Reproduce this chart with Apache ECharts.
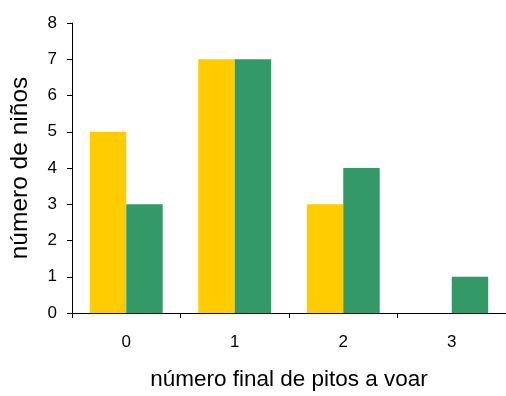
<!DOCTYPE html>
<html><head><meta charset="utf-8">
<script src="https://cdn.jsdelivr.net/npm/echarts@6/dist/echarts.min.js"></script>
<style>html,body{margin:0;padding:0;background:#fff}#c{width:506px;height:396px}</style>
</head><body><div id="c"></div>
<script>
var categories = ['0', '1', '2', '3'];
var seriesA = [5, 7, 3, 0];
var seriesB = [3, 7, 4, 1];
var yTicks = [0, 1, 2, 3, 4, 5, 6, 7, 8];

var chart = echarts.init(document.getElementById('c'), null, {renderer: 'canvas'});
var font = '"Liberation Sans", Arial, sans-serif';
chart.setOption({
  animation: false,
  backgroundColor: '#fff',
  grid: {left: 72, right: -6, top: 23, bottom: 77, containLabel: false},
  xAxis: {
    type: 'category', data: categories,
    axisLine: {lineStyle: {color: '#000', width: 1}},
    axisTick: {show: true, length: 5, inside: false, lineStyle: {color: '#000'}},
    axisLabel: {fontFamily: font, fontSize: 17, color: '#000', margin: 21},
    name: 'número final de pitos a voar', nameLocation: 'middle', nameGap: 55,
    nameTextStyle: {fontFamily: font, fontSize: 22.5, color: '#000'}
  },
  yAxis: {
    type: 'value', min: yTicks[0], max: yTicks[yTicks.length - 1], interval: 1,
    splitLine: {show: false},
    axisLine: {show: true, lineStyle: {color: '#000', width: 1}},
    axisTick: {show: true, length: 5, lineStyle: {color: '#000'}},
    axisLabel: {fontFamily: font, fontSize: 17, color: '#000', margin: 15},
    name: 'número de niños', nameLocation: 'middle', nameGap: 39,
    nameTextStyle: {fontFamily: font, fontSize: 24.5, color: '#000'}
  },
  series: [
    {type: 'bar', data: seriesA, barWidth: '33.6%', barGap: '0%', itemStyle: {color: '#FFCC00'}},
    {type: 'bar', data: seriesB, barWidth: '33.6%', barGap: '0%', itemStyle: {color: '#339966'}}
  ]
});
</script></body></html>
